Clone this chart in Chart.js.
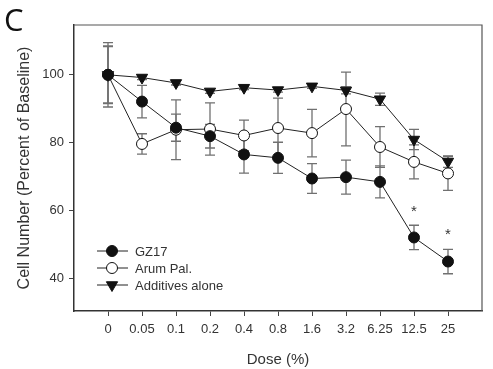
<!DOCTYPE html>
<html lang="en">
  <head>
    <meta charset="utf-8">
    <title>Cell number vs dose</title>
    <style>
      html, body { margin: 0; padding: 0; background: #fff; }
      #wrap { position: relative; width: 493px; height: 369px; }
    </style>
  </head>
  <body>
    <div id="wrap"><canvas id="graph"></canvas></div>

    <script src="https://cdn.jsdelivr.net/npm/chart.js@4.4.0/dist/chart.umd.min.js"></script>
    <script>
    // values
    var doseLabels = ['0', '0.05', '0.1', '0.2', '0.4', '0.8', '1.6', '3.2', '6.25', '12.5', '25'];
    var gz17 = [100, 92.1, 84.4, 81.9, 76.5, 75.5, 69.4, 69.8, 68.4, 52.0, 44.9];
    var gz17Err = [9.5, 4.8, 4.0, 3.5, 5.5, 4.6, 4.4, 5.0, 4.7, 3.6, 3.6];
    var arum = [100, 79.6, 83.8, 84.0, 82.1, 84.3, 82.8, 89.9, 78.7, 74.3, 70.9];
    var arumErr = [8.3, 3.0, 8.8, 7.7, 4.5, 8.8, 7.0, 10.9, 6.0, 5.0, 5.0];
    var additives = [100, 99.2, 97.6, 95.1, 96.2, 95.5, 96.6, 95.4, 92.8, 80.9, 74.4];
    var additivesErr = [8.5, 0.6, 0.6, 0.6, 0.6, 0.6, 0.6, 1.0, 1.8, 3.0, 1.7];
    var yTicks = [40, 60, 80, 100];
    var starIndex = [9, 10];
    var starValue = [60.3, 53.6];

    var FONT = 'Liberation Sans, Arial, sans-serif';

    function toPoints(arr) {
      return arr.map(function (v, i) { return { x: i, y: v }; });
    }

    // error bars under the markers
    var errorBars = {
      id: 'errorBars',
      beforeDatasetsDraw: function (chart) {
        var ctx = chart.ctx, xs = chart.scales.x, ys = chart.scales.y;
        ctx.save();
        ctx.strokeStyle = '#707070';
        ctx.lineWidth = 1.3;
        chart.data.datasets.forEach(function (ds) {
          ds.data.forEach(function (p, i) {
            var e = ds.errors[i];
            var x = xs.getPixelForValue(p.x);
            var y1 = ys.getPixelForValue(p.y + e);
            var y2 = ys.getPixelForValue(p.y - e);
            ctx.beginPath();
            ctx.moveTo(x, y1); ctx.lineTo(x, y2);
            ctx.moveTo(x - 5, y1); ctx.lineTo(x + 5, y1);
            ctx.moveTo(x - 5, y2); ctx.lineTo(x + 5, y2);
            ctx.stroke();
          });
        });
        ctx.restore();
      }
    };

    // frame, asterisks, legend inside the plot, panel letter
    var extras = {
      id: 'extras',
      afterDraw: function (chart) {
        var ctx = chart.ctx, a = chart.chartArea;
        var xs = chart.scales.x, ys = chart.scales.y;
        ctx.save();
        ctx.strokeStyle = '#555';
        ctx.lineWidth = 1.2;
        ctx.beginPath();
        ctx.moveTo(a.left, a.top); ctx.lineTo(a.right, a.top); ctx.lineTo(a.right, a.bottom);
        ctx.stroke();

        ctx.fillStyle = '#333';
        ctx.font = '15px ' + FONT;
        ctx.textAlign = 'center';
        ctx.textBaseline = 'middle';
        starIndex.forEach(function (idx, k) {
          ctx.fillText('*', xs.getPixelForValue(idx), ys.getPixelForValue(starValue[k]) + 3);
        });

        var rowY = [251, 268, 285];
        chart.data.datasets.forEach(function (ds, k) {
          var y = rowY[k];
          ctx.strokeStyle = '#222';
          ctx.lineWidth = 1;
          ctx.beginPath();
          ctx.moveTo(97, y); ctx.lineTo(128, y);
          ctx.stroke();
          ctx.fillStyle = ds.pointBackgroundColor;
          ctx.strokeStyle = '#111';
          Chart.helpers.drawPoint(ctx, {
            pointStyle: ds.pointStyle,
            radius: ds.pointRadius,
            rotation: ds.pointRotation || 0,
            borderWidth: 1
          }, 112, y);
          ctx.fillStyle = '#333';
          ctx.textAlign = 'left';
          ctx.font = '13px ' + FONT;
          ctx.fillText(ds.label, 135, y + 1);
        });

        ctx.fillStyle = '#111';
        ctx.font = '31px Open Sans, sans-serif';
        ctx.textAlign = 'left';
        ctx.textBaseline = 'middle';
        ctx.fillText('C', 4, 22);
        ctx.restore();
      }
    };

    var ctx = document.getElementById('graph').getContext('2d');
    var chart = new Chart(ctx, {
      type: 'line',
      data: {
        datasets: [{
          label: 'GZ17',
          data: toPoints(gz17),
          errors: gz17Err,
          borderColor: '#222',
          borderWidth: 1,
          pointStyle: 'circle',
          pointRadius: 5.5,
          pointBackgroundColor: '#111',
          pointBorderColor: '#111',
          pointBorderWidth: 1
        }, {
          label: 'Arum Pal.',
          data: toPoints(arum),
          errors: arumErr,
          borderColor: '#222',
          borderWidth: 1,
          pointStyle: 'circle',
          pointRadius: 5.5,
          pointBackgroundColor: '#fff',
          pointBorderColor: '#111',
          pointBorderWidth: 1
        }, {
          label: 'Additives alone',
          data: toPoints(additives),
          errors: additivesErr,
          borderColor: '#222',
          borderWidth: 1,
          pointStyle: 'triangle',
          pointRotation: 180,
          pointRadius: 6.5,
          pointBackgroundColor: '#111',
          pointBorderColor: '#111',
          pointBorderWidth: 1
        }]
      },
      options: {
        responsive: true,
        maintainAspectRatio: false,
        animation: false,
        layout: { padding: { top: 25, right: 11, left: 0, bottom: 0 } },
        plugins: { legend: { display: false }, tooltip: { enabled: false } },
        scales: {
          x: {
            type: 'linear',
            min: -1,
            max: 11,
            afterBuildTicks: function (s) {
              s.ticks = doseLabels.map(function (_, i) { return { value: i }; });
            },
            afterFit: function (s) { s.height = 58; },
            grid: { drawOnChartArea: false, color: '#444', tickLength: 5 },
            border: { display: true, color: '#333', width: 1.5 },
            ticks: {
              autoSkip: false, maxRotation: 0, padding: 6, color: '#333',
              font: { family: FONT, size: 13 },
              callback: function (v) { return doseLabels[v]; }
            },
            title: {
              display: true, text: 'Dose (%)', color: '#333',
              font: { family: FONT, size: 15 },
              padding: { top: 3, bottom: 0 }
            }
          },
          y: {
            min: 30.3,
            max: 114.7,
            afterBuildTicks: function (s) {
              s.ticks = yTicks.map(function (v) { return { value: v }; });
            },
            afterFit: function (s) { s.width = 74; },
            grid: { drawOnChartArea: false, color: '#444', tickLength: 5 },
            border: { display: true, color: '#333', width: 1.5 },
            ticks: { padding: 5, color: '#333', font: { family: FONT, size: 13 } },
            title: {
              display: true, text: 'Cell Number (Percent of Baseline)', color: '#333',
              font: { family: FONT, size: 16 },
              padding: { top: 15, bottom: 0 }
            }
          }
        }
      },
      plugins: [errorBars, extras]
    });
    </script>
  </body>
</html>
